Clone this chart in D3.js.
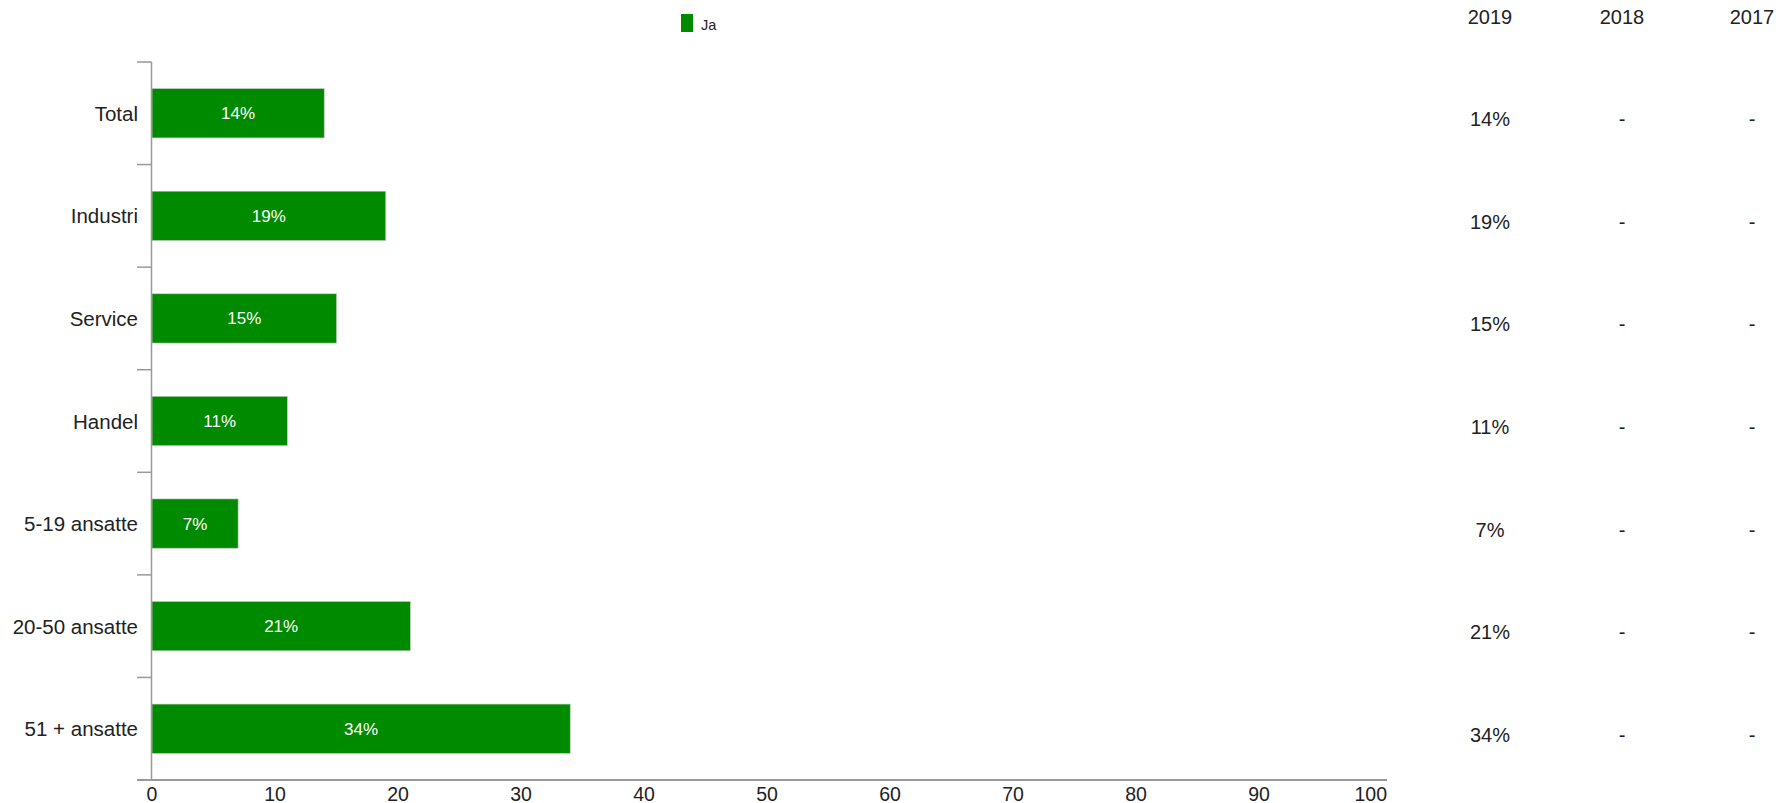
<!DOCTYPE html>
<html><head><meta charset="utf-8">
<script src="https://cdn.jsdelivr.net/npm/d3@7"></script>
<style>body{margin:0;background:#fff}svg{display:block;font-family:"Liberation Sans",Arial,sans-serif}</style>
</head><body>
<svg id="c" width="1779" height="803"></svg>
<script>
const categories = ["Total","Industri","Service","Handel","5-19 ansatte","20-50 ansatte","51 + ansatte"];
const values2019 = [14,19,15,11,7,21,34];
const values2018 = [null,null,null,null,null,null,null];
const values2017 = [null,null,null,null,null,null,null];
const years = ["2019","2018","2017"];
const xTicks = [0,10,20,30,40,50,60,70,80,90,100];
const legendLabel = "Ja";

const svg = d3.select("#c");
const green = "#008a00";
const x = d3.scaleLinear().domain([0,100]).range([152,1382]);
const y = d3.scaleBand().domain(categories).range([62,780]).paddingInner(0.52).paddingOuter(0.26);
const yb = d3.scaleBand().domain(categories).range([62,780]);

// bars
svg.selectAll("rect.bar").data(values2019).join("rect")
  .attr("x", x(0)).attr("y",(d,i)=>y(categories[i]))
  .attr("width", d=>x(d)-x(0)).attr("height", y.bandwidth())
  .attr("fill", green).attr("stroke","#b8c8b8").attr("stroke-width",0.6);

svg.selectAll("text.bl").data(values2019).join("text")
  .attr("x", d=>(x(0)+x(d))/2).attr("y",(d,i)=>y(categories[i])+y.bandwidth()/2+6)
  .attr("text-anchor","middle").attr("fill","#fff").attr("font-size",17)
  .text(d=>d+"%");

// y axis
svg.append("line").attr("x1",151.5).attr("x2",151.5).attr("y1",62).attr("y2",780).attr("stroke","#999").attr("stroke-width",1.5);
svg.selectAll("line.yt").data(categories).join("line")
  .attr("x1",137).attr("x2",151.5).attr("y1",d=>yb(d)).attr("y2",d=>yb(d))
  .attr("stroke","#999").attr("stroke-width",1.5);
svg.selectAll("text.cat").data(categories).join("text")
  .attr("x",138).attr("y",d=>yb(d)+yb.bandwidth()/2+7.5)
  .attr("text-anchor","end").attr("font-size",20.5).attr("fill","#222").text(d=>d);

// x axis
svg.append("line").attr("x1",137).attr("x2",1387).attr("y1",780).attr("y2",780).attr("stroke","#999").attr("stroke-width",2);
svg.selectAll("text.xt").data(xTicks).join("text")
  .attr("x",d=> d===100 ? 1387 : x(d)).attr("y",800.5)
  .attr("text-anchor",d=> d===100 ? "end":"middle").attr("font-size",19.5).attr("fill","#222").text(d=>d);

// legend
svg.append("rect").attr("x",681).attr("y",14).attr("width",12).attr("height",18).attr("fill",green);
svg.append("text").attr("x",701).attr("y",30).attr("font-size",14.5).attr("fill","#222").text(legendLabel);

// table
const colX = [1490,1622,1752];
const cols = [values2019, values2018, values2017];
svg.selectAll("text.yr").data(years).join("text")
  .attr("x",(d,i)=>colX[i]).attr("y",24).attr("text-anchor","middle").attr("font-size",20).attr("fill","#222").text(d=>d);
cols.forEach((col,ci)=>{
  svg.selectAll("text.v"+ci).data(col).join("text")
    .attr("x",colX[ci]).attr("y",(d,i)=>yb(categories[i])+yb.bandwidth()/2+13)
    .attr("text-anchor","middle").attr("font-size",20).attr("fill","#222")
    .text(d=> d==null ? "-" : d+"%");
});
</script>
</body></html>
